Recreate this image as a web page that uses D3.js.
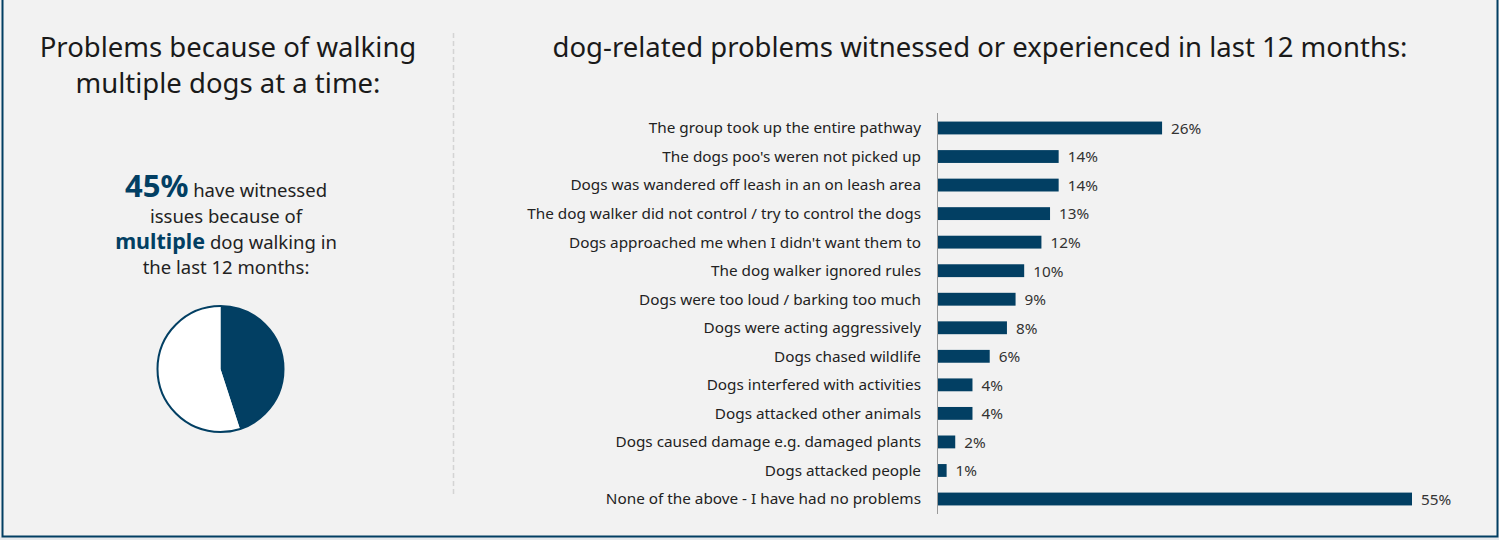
<!DOCTYPE html>
<html>
<head>
<meta charset="utf-8">
<script src="https://cdn.jsdelivr.net/npm/d3@7"></script>
<style>
  html, body { margin: 0; padding: 0; background: #f2f2f2; }
  svg { display: block; font-family: "Noto Sans", "Open Sans", sans-serif; }
</style>
</head>
<body>
<svg id="chart" width="1499" height="540"></svg>
<script>
// data
var categories = [
  "The group took up the entire pathway",
  "The dogs poo's weren not picked up",
  "Dogs was wandered off leash in an on leash area",
  "The dog walker did not control / try to control the dogs",
  "Dogs approached me when I didn't want them to",
  "The dog walker ignored rules",
  "Dogs were too loud / barking too much",
  "Dogs were acting aggressively",
  "Dogs chased wildlife",
  "Dogs interfered with activities",
  "Dogs attacked other animals",
  "Dogs caused damage e.g. damaged plants",
  "Dogs attacked people",
  "None of the above - I have had no problems"
];
var values = [26, 14, 14, 13, 12, 10, 9, 8, 6, 4, 4, 2, 1, 55];
var pieValues = [45, 55];

var navy = "#023f63";
var svg = d3.select("#chart");

// frame
svg.append("rect").attr("x", 0).attr("y", 537).attr("width", 1499).attr("height", 3).attr("fill", "#e6e9ec");
svg.append("path")
  .attr("d", "M2.5,0 V536.5 H1497.5 V0")
  .attr("fill", "none").attr("stroke", navy).attr("stroke-width", 2);

// divider
svg.append("line")
  .attr("x1", 453.5).attr("x2", 453.5).attr("y1", 33).attr("y2", 497)
  .attr("stroke", "#d4d4d4").attr("stroke-width", 1.5).attr("stroke-dasharray", "5,3");

// left panel title
var lt = svg.append("text").attr("text-anchor", "middle").attr("font-size", 27.5).attr("fill", "#1a1a1a");
lt.append("tspan").attr("x", 228).attr("y", 57).text("Problems because of walking");
lt.append("tspan").attr("x", 228).attr("y", 93).text("multiple dogs at a time:");

// callout text
var ct = svg.append("text").attr("text-anchor", "middle").attr("font-size", 18.5).attr("fill", "#222");
var l1 = ct.append("tspan").attr("x", 226).attr("y", 197);
l1.append("tspan").attr("font-size", 31).attr("font-weight", "bold").attr("fill", navy).text(pieValues[0] + "%");
l1.append("tspan").text(" have witnessed");
ct.append("tspan").attr("x", 226).attr("y", 223).text("issues because of");
var l3 = ct.append("tspan").attr("x", 226).attr("y", 249);
l3.append("tspan").attr("font-size", 21.5).attr("font-weight", "bold").attr("fill", navy).text("multiple");
l3.append("tspan").text(" dog walking in");
ct.append("tspan").attr("x", 226).attr("y", 274).text("the last 12 months:");

// pie
var pie = d3.pie().sort(null)(pieValues);
var arc = d3.arc().innerRadius(0).outerRadius(63);
var pg = svg.append("g").attr("transform", "translate(220.5,369)");
pg.selectAll("path").data(pie).enter().append("path")
  .attr("d", arc)
  .attr("fill", function (d, i) { return i === 0 ? navy : "#ffffff"; });
pg.append("circle").attr("r", 63).attr("fill", "none").attr("stroke", navy).attr("stroke-width", 2);

// right panel title
svg.append("text")
  .attr("x", 980).attr("y", 57).attr("text-anchor", "middle")
  .attr("font-size", 27.5).attr("fill", "#1a1a1a")
  .text("dog-related problems witnessed or experienced in last 12 months:");

// bar chart
var x = d3.scaleLinear().domain([0, 55]).range([938, 1412]);
var y = d3.scaleBand().domain(categories).range([113, 514]).paddingInner(0.55).paddingOuter(0.3);

svg.append("line")
  .attr("x1", 937.5).attr("x2", 937.5).attr("y1", 113).attr("y2", 514)
  .attr("stroke", "#9a9a9a").attr("stroke-width", 1);

var rows = svg.append("g").selectAll("g").data(categories).enter().append("g");

rows.append("rect")
  .attr("x", x(0))
  .attr("y", function (d) { return y(d); })
  .attr("width", function (d, i) { return x(values[i]) - x(0); })
  .attr("height", y.bandwidth())
  .attr("fill", navy);

rows.append("text")
  .attr("x", 921)
  .attr("y", function (d) { return y(d) + y.bandwidth() / 2; })
  .attr("dy", "0.35em")
  .attr("text-anchor", "end")
  .attr("font-size", 15.3)
  .attr("fill", "#222")
  .text(function (d) { return d; });

rows.append("text")
  .attr("x", function (d, i) { return x(values[i]) + 9; })
  .attr("y", function (d) { return y(d) + y.bandwidth() / 2; })
  .attr("dy", "0.38em")
  .attr("font-size", 15.3)
  .attr("fill", "#333")
  .text(function (d, i) { return values[i] + "%"; });
</script>
</body>
</html>
